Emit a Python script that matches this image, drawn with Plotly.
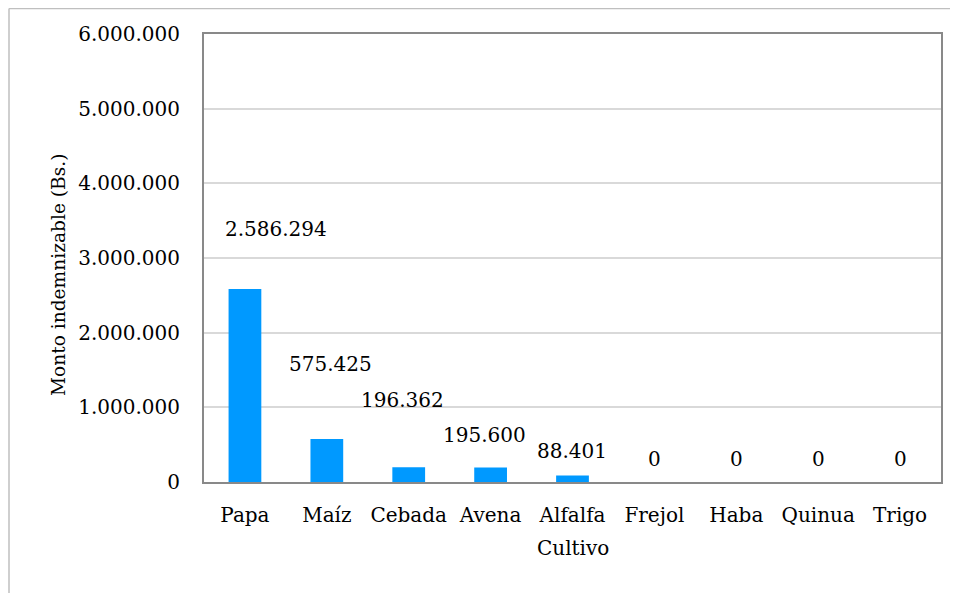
import plotly.graph_objects as go

categories = ["Papa", "Maíz", "Cebada", "Avena", "Alfalfa", "Frejol", "Haba", "Quinua", "Trigo"]
values = [2586294, 575425, 196362, 195600, 88401, 0, 0, 0, 0]
y_title = "Monto indemnizable (Bs.)"
x_title = "Cultivo"

FONT = "DejaVu Serif"
FS = 20
OFF = 8  # page body margin
W, H = 958 - OFF, 593 - OFF
ML, MR, MT, MB = 204 - OFF, 17, 34 - OFF, 111
PW, PH = W - ML - MR, H - MT - MB

def px_x(x):  # window pixel -> paper x
    return (x - OFF - ML) / PW

def px_y(y):  # window pixel -> paper y
    return (MT + PH - (y - OFF)) / PH

# manual label offsets (pixels), as in the original chart
label_dx = [31, 4, -6, -6, -1, 0, 0, 0, 0]
label_dy = [60, 75, 67, 32, 24, 23, 23, 23, 23]

def fmt(v):
    return f"{v:,}".replace(",", ".")

fig = go.Figure()
fig.add_trace(go.Bar(
    x=categories, y=values,
    marker=dict(color="#0099FF", line=dict(width=0)),
    showlegend=False,
))

for c, v, dx, dy in zip(categories, values, label_dx, label_dy):
    fig.add_annotation(x=c, y=v, text=fmt(v), showarrow=False,
                       xanchor="center", yanchor="middle",
                       xshift=dx, yshift=dy,
                       font=dict(family=FONT, size=FS, color="#000000"))

fig.add_annotation(xref="paper", yref="paper",
                   x=px_x(58), y=px_y(275),
                   text=y_title, textangle=-90, showarrow=False,
                   xanchor="center", yanchor="middle",
                   font=dict(family=FONT, size=18.6, color="#000000"))
fig.add_annotation(xref="paper", yref="paper",
                   x=0.5, y=px_y(548),
                   text=x_title, showarrow=False,
                   xanchor="center", yanchor="middle",
                   font=dict(family=FONT, size=FS, color="#000000"))

# outer chart frame
frame_color = "#BFBFBF"
fig.add_shape(type="line", xref="paper", yref="paper",
              x0=px_x(9), x1=px_x(9),
              y0=px_y(OFF + 0.5), y1=px_y(600),
              line=dict(color=frame_color, width=1.5))
fig.add_shape(type="line", xref="paper", yref="paper",
              x0=px_x(9), x1=px_x(970),
              y0=px_y(OFF + 0.5), y1=px_y(OFF + 0.5),
              line=dict(color=frame_color, width=1.5))

fig.update_layout(
    width=W, height=H,
    margin=dict(l=ML, r=MR, t=MT, b=MB),
    paper_bgcolor="white", plot_bgcolor="white",
    separators=",.",
    bargap=0.6,
    font=dict(family=FONT, size=FS, color="#000000"),
)
fig.update_xaxes(
    showline=True, linecolor="#898989", linewidth=2, mirror=True,
    showgrid=False, ticks="", ticklabelstandoff=14,
    tickfont=dict(family=FONT, size=FS, color="#000000"),
)
fig.update_yaxes(
    range=[0, 6000000], dtick=1000000, tickformat=",d",
    showline=True, linecolor="#898989", linewidth=2, mirror=True,
    showgrid=True, gridcolor="#D9D9D9", gridwidth=1.5,
    zeroline=False, ticks="", ticklabelstandoff=18,
    tickfont=dict(family=FONT, size=FS, color="#000000"),
)

fig.write_html("out.html")
